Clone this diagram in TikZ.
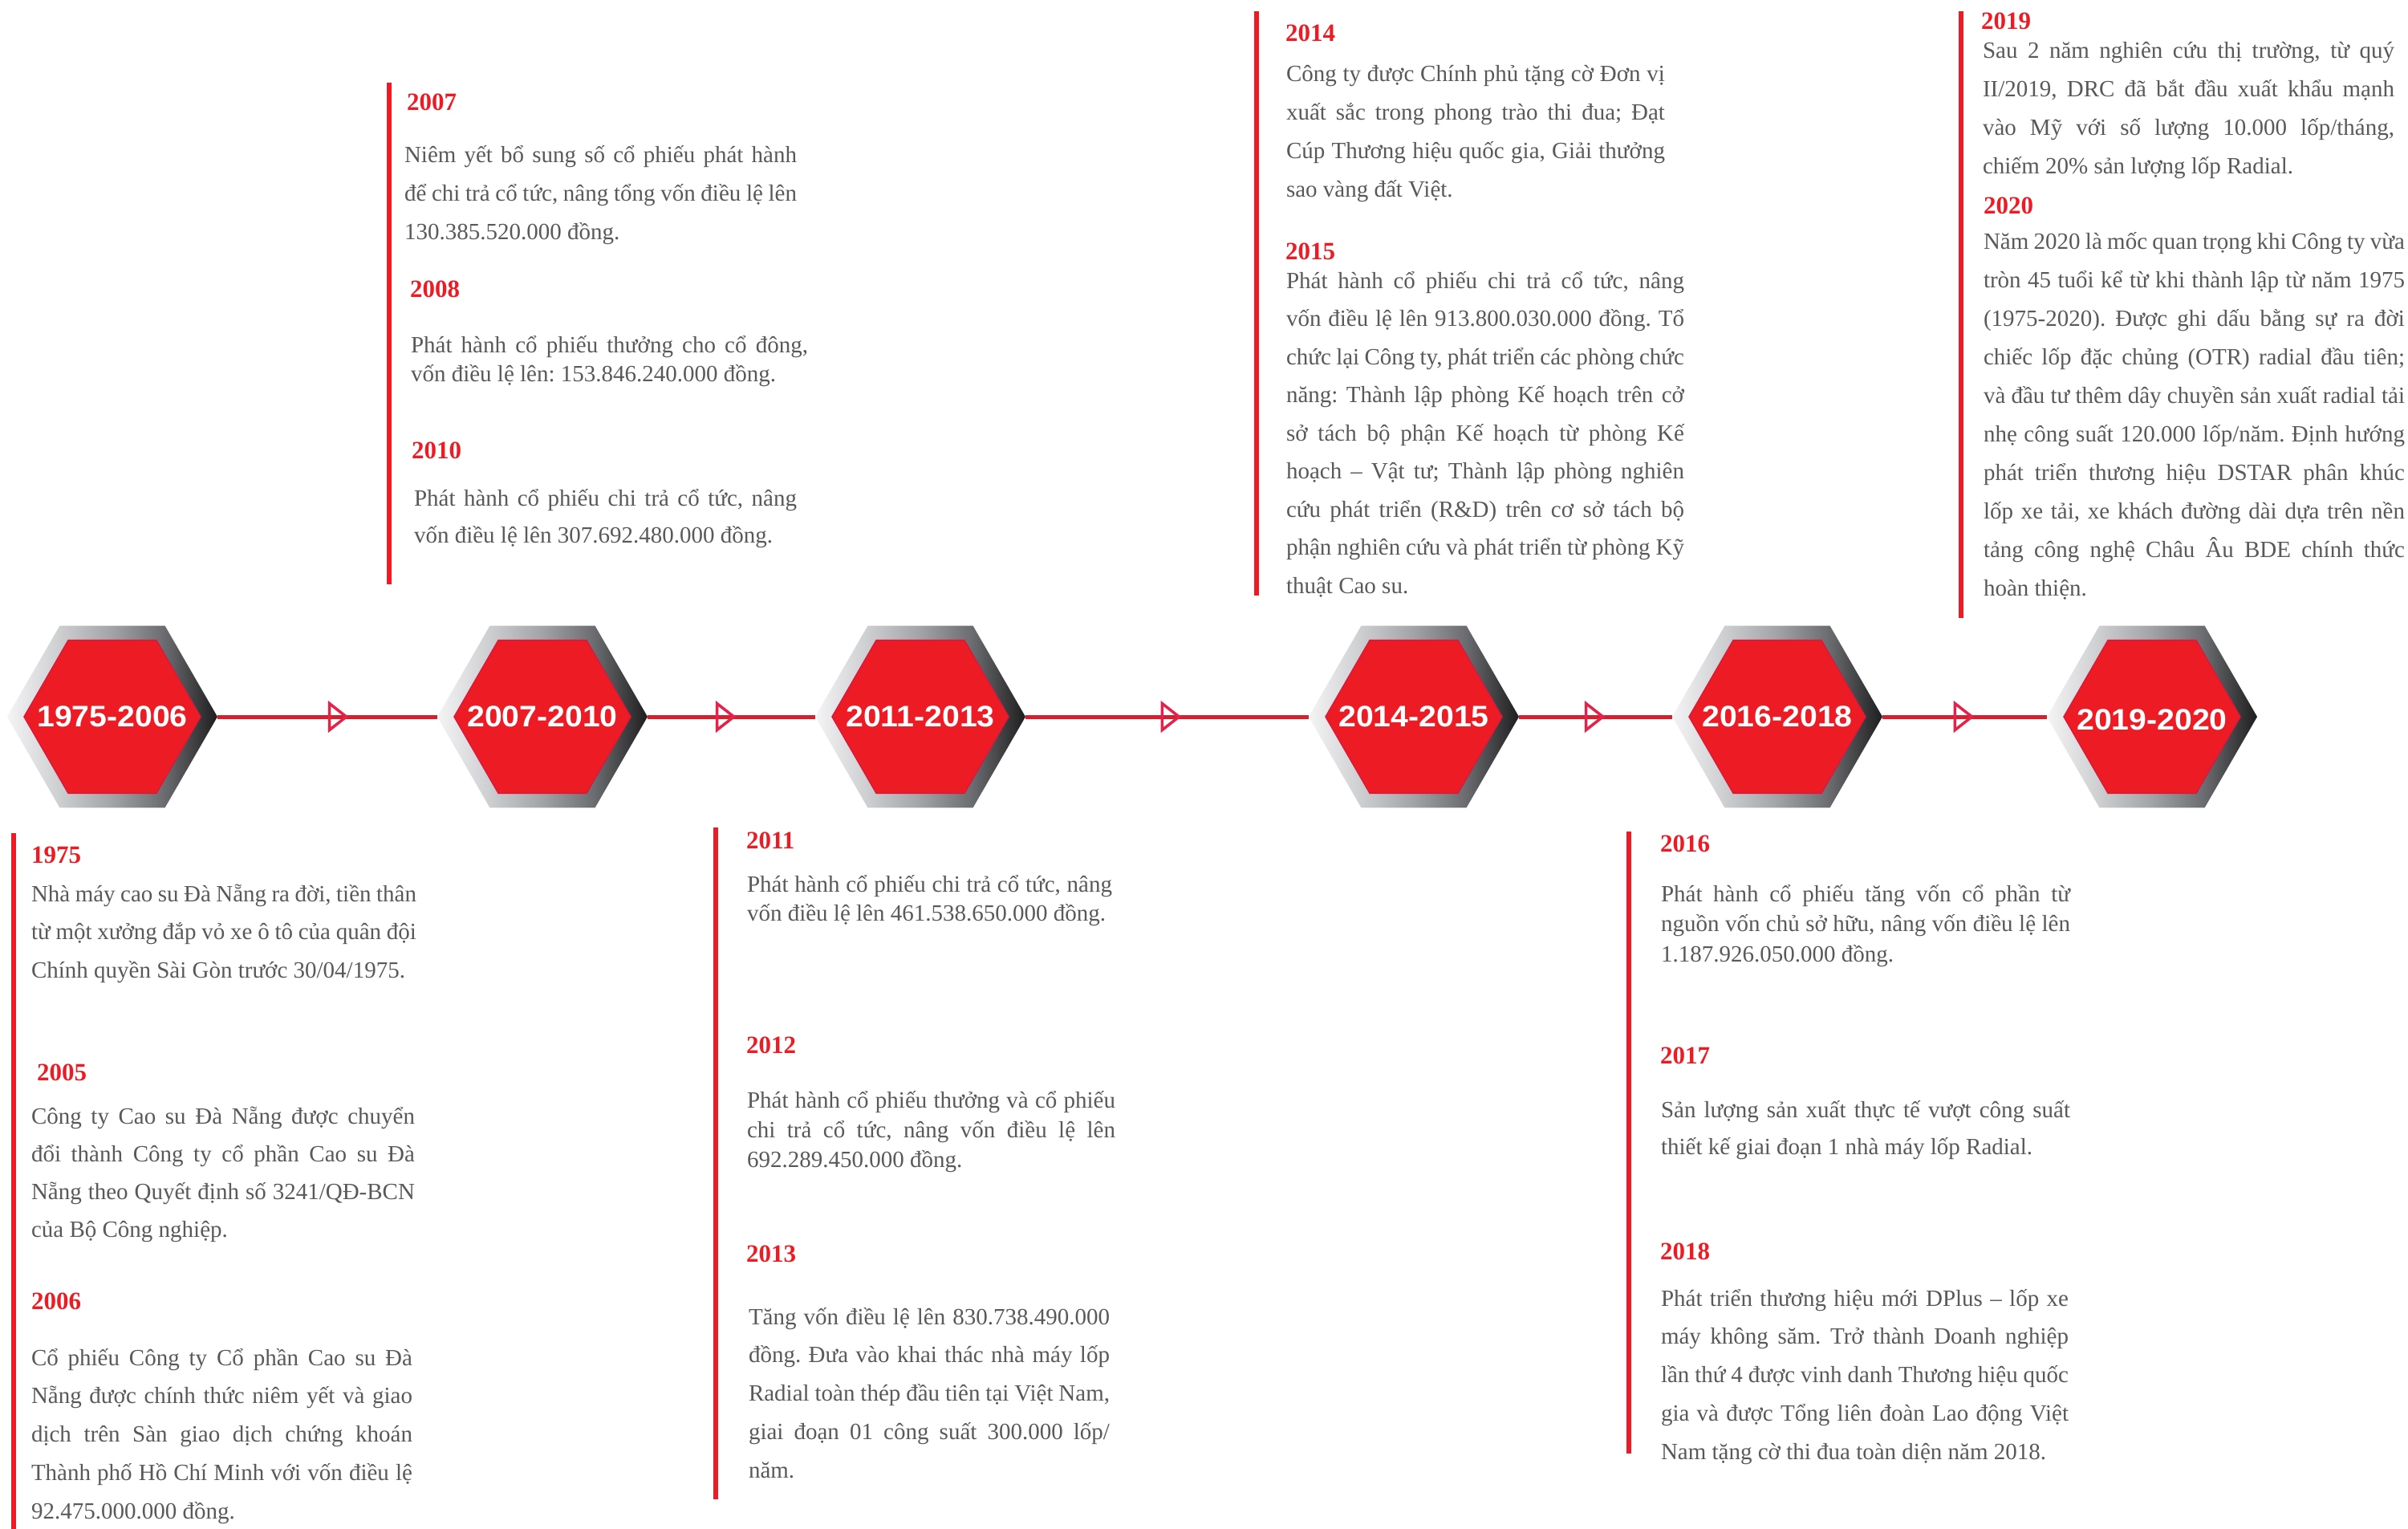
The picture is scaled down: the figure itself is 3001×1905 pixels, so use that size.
\documentclass[tikz,border=0pt]{standalone}
\usepackage{fontspec}
\setmainfont{Liberation Serif}
\newfontfamily\bodyfont{Liberation Serif}
\newfontfamily\hexfont[FakeStretch=1.06]{Liberation Sans}
\usetikzlibrary{shapes.geometric}
\definecolor{dred}{HTML}{ED1C24}
\definecolor{tgray}{HTML}{58595B}
\definecolor{conncol}{HTML}{D0232F}
\definecolor{tricol}{HTML}{E5234A}
\definecolor{hexedge}{HTML}{D71A3C}
\definecolor{hg0}{HTML}{F4F4F5}
\definecolor{hg1}{HTML}{CDCED0}
\definecolor{hg2}{HTML}{A2A3A6}
\definecolor{hg3}{HTML}{6A6B6E}
\definecolor{hg4}{HTML}{1E1E1F}
\pgfdeclarehorizontalshading{hexgrad}{100bp}{color(0bp)=(hg0); color(25bp)=(hg0); color(37.5bp)=(hg1); color(50bp)=(hg2); color(62.5bp)=(hg3); color(75bp)=(hg4); color(100bp)=(hg4)}
\newcommand\para[4]{\node[body,anchor=base west] (#1) at (#2) {\vtop{\frenchspacing\baselineskip=#3pt\lineskiplimit=-1000pt\lineskip=0pt #4}};}
\newcommand\J[2]{\hbox to #1pt{#2}}
\newcommand\NL[1]{\hbox{#1}}
\tikzset{
  body/.style={font=\bodyfont\fontsize{29}{35}\selectfont, text=tgray, inner sep=0pt, outer sep=0pt, yshift=-4pt},
  yr/.style={font=\bodyfont\bfseries\fontsize{31}{31}\selectfont, text=dred, inner sep=0pt, outer sep=0pt, anchor=base west, yshift=-2pt},
  hexout/.style={regular polygon, regular polygon sides=6, minimum size=262pt, inner sep=0pt, outer sep=0pt, shade, shading=hexgrad},
  hexin/.style={regular polygon, regular polygon sides=6, minimum size=220pt, inner sep=0pt, outer sep=0pt, fill=dred, draw=hexedge, line width=1.5pt},
  hexlabel/.style={inner sep=0pt, text=white, font=\hexfont\bfseries\fontsize{37}{37}\selectfont},
  conn/.style={draw=conncol, line width=5pt},
  tri/.style={draw=tricol, line width=3.5pt, line join=miter},
  bar/.style={draw=dred, line width=6pt}
}
\begin{document}
\begin{tikzpicture}[x=1pt,y=-1pt]
\useasboundingbox (0,0) rectangle (3001,1905);
\fill[white] (0,0) rectangle (3001,1905);

% hexagons
\foreach \n/\cx in {1/140,2/676,3/1147,4/1762,5/2215,6/2682}{
  \node[hexout] (o\n) at (\cx,893) {};
  \node[hexin] (i\n) at (\cx,893) {};
}
\node[hexlabel] (h1) at (i1) {1975-2006};
\node[hexlabel] (h2) at (i2) {2007-2010};
\node[hexlabel] (h3) at (i3) {2011-2013};
\node[hexlabel] (h4) at (i4) {2014-2015};
\node[hexlabel] (h5) at (i5) {2016-2018};
\node[hexlabel, yshift=-4pt] (h6) at (i6) {2019-2020};

% connectors
\draw[conn] (o1.east) -- coordinate[pos=0.546] (m1) (o2.west);
\draw[conn] (o2.east) -- coordinate[pos=0.462] (m2) (o3.west);
\draw[conn] (o3.east) -- coordinate[pos=0.511] (m3) (o4.west);
\draw[conn] (o4.east) -- coordinate[pos=0.49] (m4) (o5.west);
\draw[conn] (o5.east) -- coordinate[pos=0.49] (m5) (o6.west);
\foreach \m in {m1,m2,m3,m4,m5}{
  \draw[tri, shift={(\m)}] (-10,-16.5) -- (11,0) -- (-10,16.5) -- cycle;
}

% red bars
\draw[bar] (17,1038) -- (17,1905);
\draw[bar] (485,103) -- (485,728);
\draw[bar] (892,1031) -- (892,1868);
\draw[bar] (1566,14) -- (1566,742);
\draw[bar] (2030,1036) -- (2030,1811);
\draw[bar] (2444,14) -- (2444,770);

% block 1975-2006
\node[yr] (y1975) at (39,1073) {1975};
\para{p1975}{39,1119}{47.85}{%
\J{480}{Nhà máy cao su Đà Nẵng ra đời, tiền thân}
\J{480}{từ một xưởng đắp vỏ xe ô tô của quân đội}
\NL{Chính quyền Sài Gòn trước 30/04/1975.}}
\node[yr] (y2005) at (46,1344) {2005};
\para{p2005}{39,1396}{47.3}{%
\J{478}{Công ty Cao su Đà Nẵng được chuyển}
\J{478}{đổi thành Công ty cổ phần Cao su Đà}
\J{478}{Nẵng theo Quyết định số 3241/QĐ-BCN}
\NL{của Bộ Công nghiệp.}}
\node[yr] (y2006) at (39,1629) {2006};
\para{p2006}{39,1697}{47.8}{%
\J{475}{Cổ phiếu Công ty Cổ phần Cao su Đà}
\J{475}{Nẵng được chính thức niêm yết và giao}
\J{475}{dịch trên Sàn giao dịch chứng khoán}
\J{475}{Thành phố Hồ Chí Minh với vốn điều lệ}
\NL{92.475.000.000 đồng.}}

% block 2007-2010
\node[yr] (y2007) at (507,136) {2007};
\para{p2007}{504,199}{47.85}{%
\J{489}{Niêm yết bổ sung số cổ phiếu phát hành}
\J{489}{để chi trả cổ tức, nâng tổng vốn điều lệ lên}
\NL{130.385.520.000 đồng.}}
\node[yr] (y2008) at (511,368) {2008};
\para{p2008}{512,435}{36}{%
\J{495}{Phát hành cổ phiếu thưởng cho cổ đông,}
\NL{vốn điều lệ lên: 153.846.240.000 đồng.}}
\node[yr] (y2010) at (513,569) {2010};
\para{p2010}{516,626}{46.5}{%
\J{477}{Phát hành cổ phiếu chi trả cổ tức, nâng}
\NL{vốn điều lệ lên 307.692.480.000 đồng.}}

% block 2011-2013
\node[yr] (y2011) at (930,1055) {2011};
\para{p2011}{931,1107}{36.5}{%
\J{455}{Phát hành cổ phiếu chi trả cổ tức, nâng}
\NL{vốn điều lệ lên 461.538.650.000 đồng.}}
\node[yr] (y2012) at (930,1310) {2012};
\para{p2012}{931,1376}{37}{%
\J{459}{Phát hành cổ phiếu thưởng và cổ phiếu}
\J{459}{chi trả cổ tức, nâng vốn điều lệ lên}
\NL{692.289.450.000 đồng.}}
\node[yr] (y2013) at (930,1570) {2013};
\para{p2013}{933,1646}{47.8}{%
\J{450}{Tăng vốn điều lệ lên 830.738.490.000}
\J{450}{đồng. Đưa vào khai thác nhà máy lốp}
\J{450}{Radial toàn thép đầu tiên tại Việt Nam,}
\J{450}{giai đoạn 01 công suất 300.000 lốp/}
\NL{năm.}}

% block 2014-2015
\node[yr] (y2014) at (1602,50) {2014};
\para{p2014}{1603,98}{48}{%
\J{472}{Công ty được Chính phủ tặng cờ Đơn vị}
\J{472}{xuất sắc trong phong trào thi đua; Đạt}
\J{472}{Cúp Thương hiệu quốc gia, Giải thưởng}
\NL{sao vàng đất Việt.}}
\node[yr] (y2015) at (1602,321) {2015};
\para{p2015}{1603,355}{47.5}{%
\J{496}{Phát hành cổ phiếu chi trả cổ tức, nâng}
\J{496}{vốn điều lệ lên 913.800.030.000 đồng. Tổ}
\J{496}{chức lại Công ty, phát triển các phòng chức}
\J{496}{năng: Thành lập phòng Kế hoạch trên cở}
\J{496}{sở tách bộ phận Kế hoạch từ phòng Kế}
\J{496}{hoạch – Vật tư; Thành lập phòng nghiên}
\J{496}{cứu phát triển (R\&D) trên cơ sở tách bộ}
\J{496}{phận nghiên cứu và phát triển từ phòng Kỹ}
\NL{thuật Cao su.}}

% block 2016-2018
\node[yr] (y2016) at (2069,1059) {2016};
\para{p2016}{2070,1119}{37.5}{%
\J{510}{Phát hành cổ phiếu tăng vốn cổ phần từ}
\J{510}{nguồn vốn chủ sở hữu, nâng vốn điều lệ lên}
\NL{1.187.926.050.000 đồng.}}
\node[yr] (y2017) at (2069,1323) {2017};
\para{p2017}{2070,1388}{46}{%
\J{510}{Sản lượng sản xuất thực tế vượt công suất}
\NL{thiết kế giai đoạn 1 nhà máy lốp Radial.}}
\node[yr] (y2018) at (2069,1567) {2018};
\para{p2018}{2070,1623}{47.8}{%
\J{508}{Phát triển thương hiệu mới DPlus – lốp xe}
\J{508}{máy không săm. Trở thành Doanh nghiệp}
\J{508}{lần thứ 4 được vinh danh Thương hiệu quốc}
\J{508}{gia và được Tổng liên đoàn Lao động Việt}
\NL{Nam tặng cờ thi đua toàn diện năm 2018.}}

% block 2019-2020
\node[yr] (y2019) at (2469,35) {2019};
\para{p2019}{2471,69}{48}{%
\J{513}{Sau 2 năm nghiên cứu thị trường, từ quý}
\J{513}{II/2019, DRC đã bắt đầu xuất khẩu mạnh}
\J{513}{vào Mỹ với số lượng 10.000 lốp/tháng,}
\NL{chiếm 20\% sản lượng lốp Radial.}}
\node[yr] (y2020) at (2472,264) {2020};
\para{p2020}{2472,306}{48}{%
\J{525}{Năm 2020 là mốc quan trọng khi Công ty vừa}
\J{525}{tròn 45 tuổi kể từ khi thành lập từ năm 1975}
\J{525}{(1975-2020). Được ghi dấu bằng sự ra đời}
\J{525}{chiếc lốp đặc chủng (OTR) radial đầu tiên;}
\J{525}{và đầu tư thêm dây chuyền sản xuất radial tải}
\J{525}{nhẹ công suất 120.000 lốp/năm. Định hướng}
\J{525}{phát triển thương hiệu DSTAR phân khúc}
\J{525}{lốp xe tải, xe khách đường dài dựa trên nền}
\J{525}{tảng công nghệ Châu Âu BDE chính thức}
\NL{hoàn thiện.}}
\end{tikzpicture}
\end{document}
